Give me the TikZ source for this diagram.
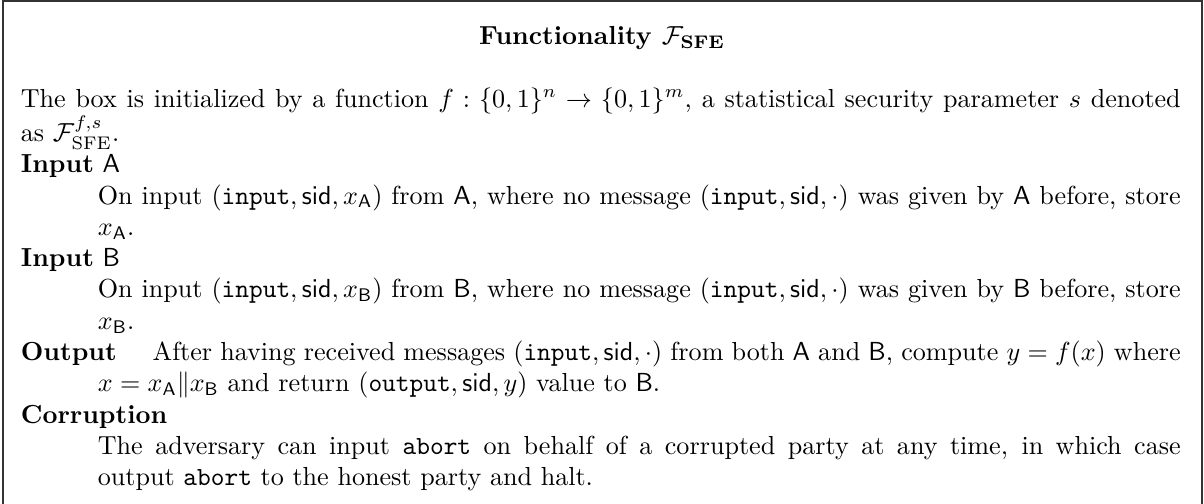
\documentclass[tikz,border=0pt]{standalone}
\usepackage{amsmath}
\usepackage{amssymb}
\usetikzlibrary{positioning}
% parties, session id and message tags
\newcommand{\pa}{\mathsf{A}}
\newcommand{\pb}{\mathsf{B}}
\newcommand{\sid}{\mathsf{sid}}
\newcommand{\msgtag}[1]{\mathtt{#1}}
\newlength{\bodyindent}
\setlength{\bodyindent}{29.5pt}
\newcommand{\itembody}{\hangindent=\bodyindent\hangafter=0\relax}
\tikzset{
  frameline/.style={
    line width=0.75pt,
    black!80
  },
  titlebox/.style={
    inner sep=0pt,
    font=\bfseries
  },
  textblock/.style={
    inner sep=0pt,
    anchor=base west,
    text width=444.4pt,
    align=justify,
    % justified lines need stretchable word spaces
    execute at begin node={\spaceskip=3.33333pt plus 1.66666pt minus 1.11111pt\relax}
  }
}
\begin{document}
\begin{tikzpicture}
\useasboundingbox (0,0) rectangle (461.3pt,-193.1pt);
% open frame: left, top and right sides only
\coordinate (bl) at (1.15pt,-193.1pt);
\coordinate (tl) at (1.15pt,-0.4pt);
\coordinate (tr) at (460.5pt,-0.4pt);
\coordinate (br) at (460.5pt,-193.1pt);
\draw[frameline] (bl) -- (tl) -- (tr) -- (br);
\node[titlebox, anchor=base] (title) at (230.7pt,-17.2pt) {Functionality $\mathcal{F}_{\mathbf{SFE}}$};
\node[textblock] (body) at (7.8pt,-41pt) {%
The box is initialized by a function $f:\{0,1\}^n\rightarrow\{0,1\}^m$, a statistical security parameter $s$ denoted\linebreak as $\mathcal{F}^{f,s}_{\mathrm{SFE}}$.\par
\textbf{Input} $\pa$\par
\itembody On input $(\msgtag{input},\sid,x_{\pa})$ from $\pa$, where no message $(\msgtag{input},\sid,\cdot)$ was given by $\pa$ before, store\linebreak $x_{\pa}$.\par
\textbf{Input} $\pb$\par
\itembody On input $(\msgtag{input},\sid,x_{\pb})$ from $\pb$, where no message $(\msgtag{input},\sid,\cdot)$ was given by $\pb$ before, store\linebreak $x_{\pb}$.\par
\hangindent=\bodyindent\hangafter=1
\makebox[50.5pt][l]{\textbf{Output}}After having received messages $(\msgtag{input},\sid,\cdot)$ from both $\pa$ and $\pb$, compute $y=f(x)$ where\linebreak $x=x_{\pa}\|x_{\pb}$ and return $(\msgtag{output},\sid,y)$ value to $\pb$.\par
\textbf{Corruption}\par
\itembody The adversary can input \texttt{abort} on behalf of a corrupted party at any time, in which case\linebreak output \texttt{abort} to the honest party and halt.\par};
\end{tikzpicture}
\end{document}
